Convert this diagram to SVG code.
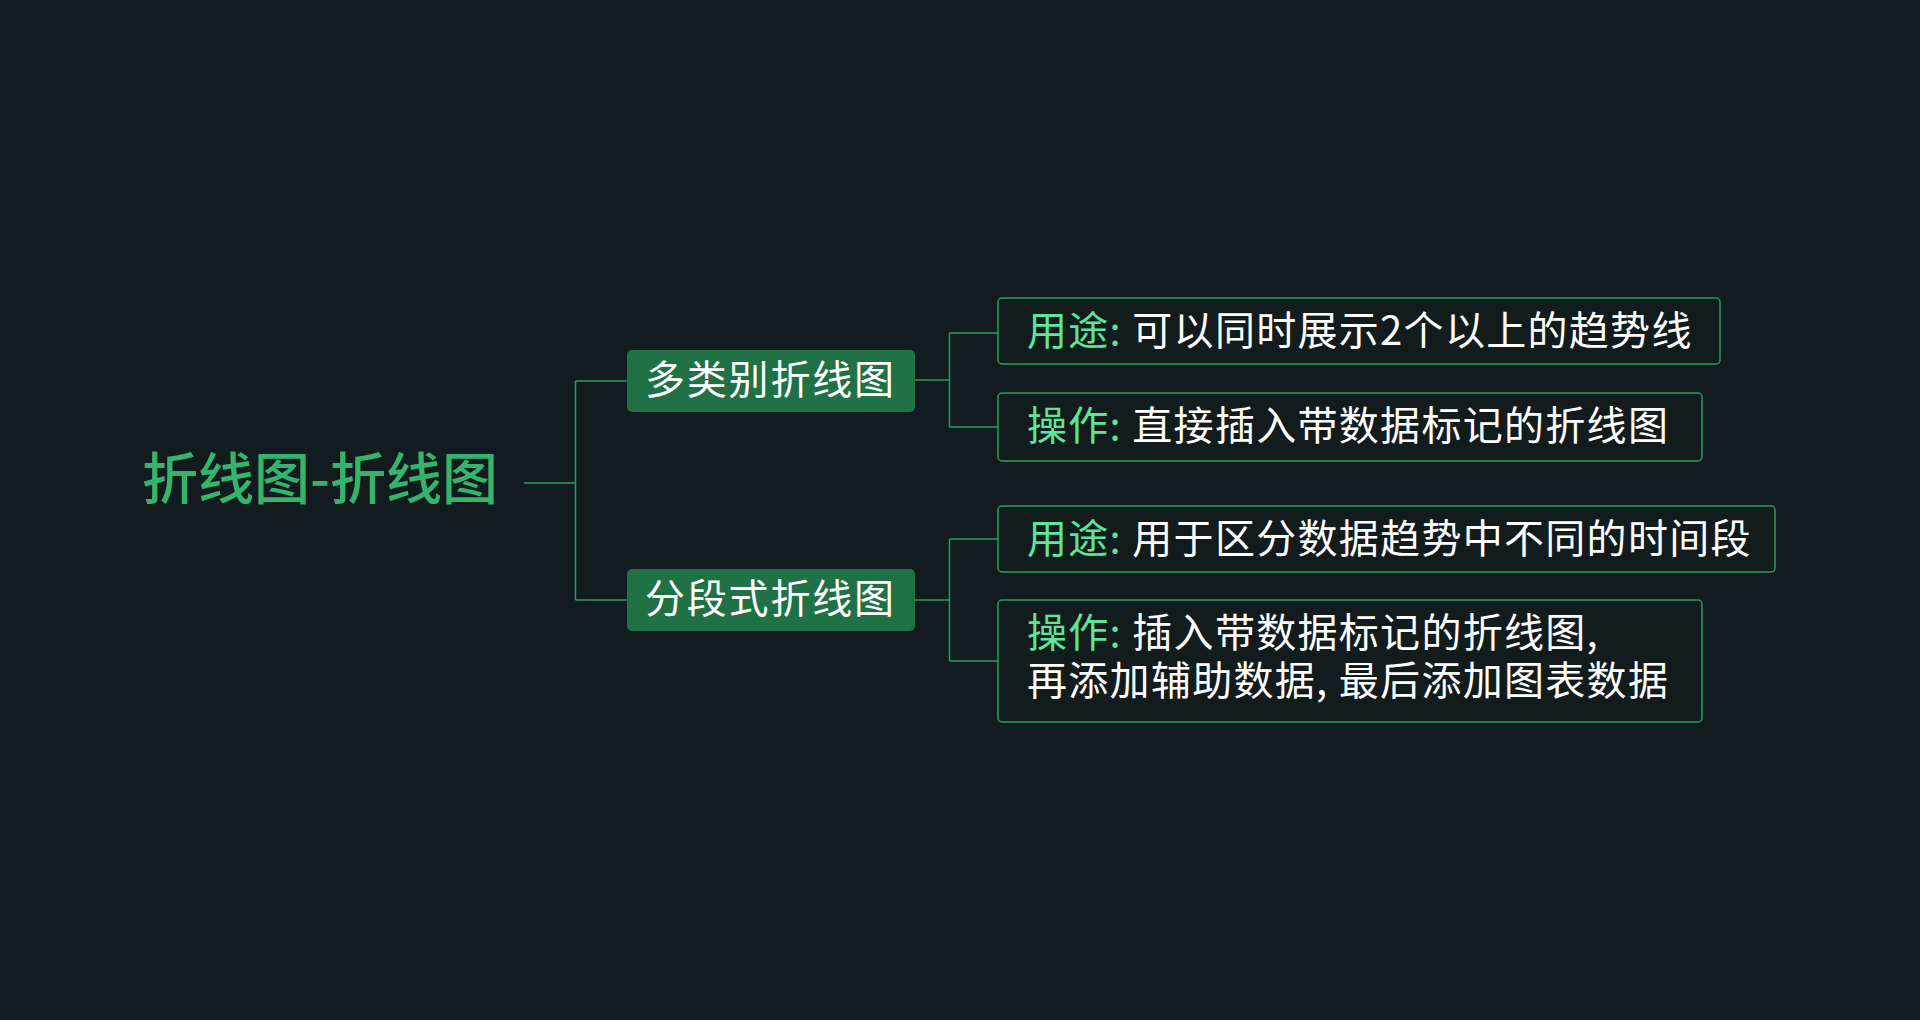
<svg xmlns="http://www.w3.org/2000/svg" width="1920" height="1020" viewBox="0 0 1920 1020">
<style>
.t{font-family:"Noto Sans CJK SC","Noto Sans",sans-serif;}
.root{font-size:56px;font-weight:500;fill:#34b46c;}
.sub{font-size:40px;fill:#ffffff;letter-spacing:1.8px;}
.subbox{fill:#217147;}
.leafbox{fill:#121c1d;stroke:#2c9a5c;stroke-width:1.5;}
.leaf{font-size:40px;fill:#ffffff;letter-spacing:1.3px;}
.hl{fill:#5ce59c;}
.con{fill:none;stroke:#2c9a5c;stroke-width:1.5;}
</style>
<rect width="1920" height="1020" fill="#121c1e"/>
<g id="connectors">
<path class="con" d="M524 483H575.5M575.5 381V600M575.5 381H627M575.5 600H627"/>
<path class="con" d="M914 380H949.5M949.5 333V427M949.5 333H998M949.5 427H998"/>
<path class="con" d="M914 600H949.5M949.5 539V661M949.5 539H998M949.5 661H998"/>
</g>
<g id="root">
<text class="t root" x="142" y="499">折线图-折线图</text>
</g>
<g id="n1">
<rect class="subbox" x="627" y="350" width="288" height="62" rx="5"/>
<text class="t sub" x="645" y="394">多类别折线图</text>
</g>
<g id="n2">
<rect class="subbox" x="627" y="569" width="288" height="62" rx="5"/>
<text class="t sub" x="645" y="613">分段式折线图</text>
</g>
<g id="n1a">
<rect class="leafbox" x="998" y="298" width="722" height="66" rx="4"/>
<text class="t leaf" x="1027" y="345" xml:space="preserve"><tspan class="hl">用途:</tspan> 可以同时展示2个以上的趋势线</text>
</g>
<g id="n1b">
<rect class="leafbox" x="998" y="393" width="704" height="68" rx="4"/>
<text class="t leaf" x="1027" y="440" xml:space="preserve"><tspan class="hl">操作:</tspan> 直接插入带数据标记的折线图</text>
</g>
<g id="n2a">
<rect class="leafbox" x="998" y="506" width="777" height="66" rx="4"/>
<text class="t leaf" x="1027" y="553" xml:space="preserve"><tspan class="hl">用途:</tspan> 用于区分数据趋势中不同的时间段</text>
</g>
<g id="n2b">
<rect class="leafbox" x="998" y="600" width="704" height="122" rx="4"/>
<text class="t leaf" x="1027" y="647" xml:space="preserve"><tspan class="hl">操作:</tspan> 插入带数据标记的折线图,</text>
<text class="t leaf" x="1027" y="695">再添加辅助数据, 最后添加图表数据</text>
</g>
</svg>
